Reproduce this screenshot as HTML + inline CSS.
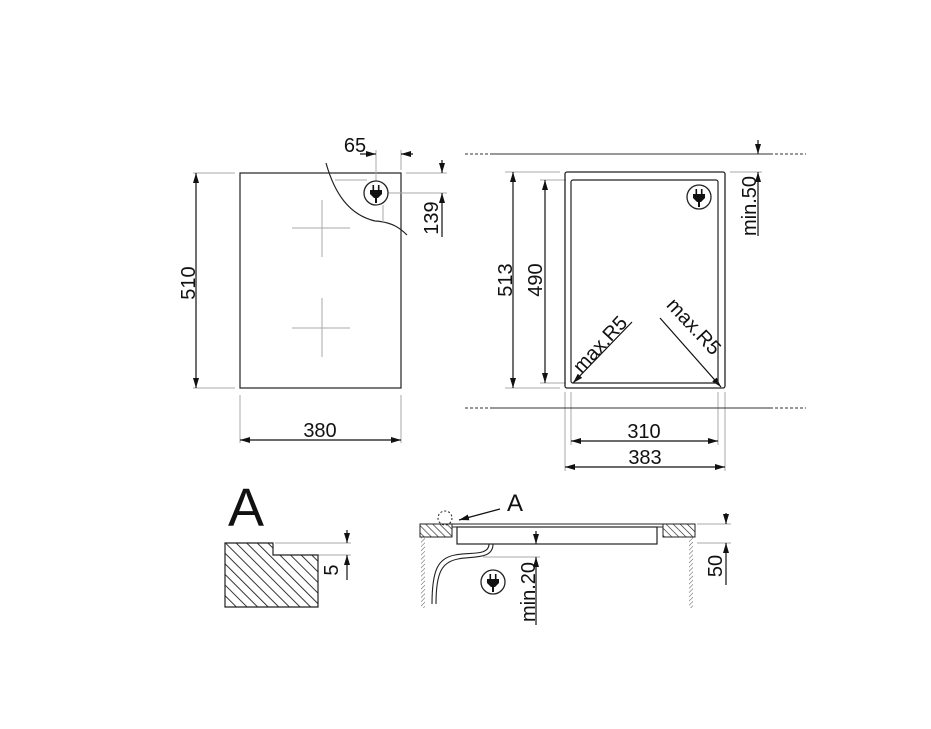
<!DOCTYPE html>
<html><head><meta charset="utf-8"><style>html,body{margin:0;padding:0;background:#fff}svg{display:block}text{font-family:"Liberation Sans",sans-serif;fill:#111}</style></head>
<body>
<svg width="931" height="729" viewBox="0 0 931 729" xmlns="http://www.w3.org/2000/svg">
<defs>
<marker id="a" viewBox="0 0 10 6" refX="10" refY="3" markerWidth="10" markerHeight="6" markerUnits="userSpaceOnUse" orient="auto"><path d="M0,0L10,3L0,6z" fill="#111"/></marker>
<pattern id="h" width="7.5" height="7.5" patternUnits="userSpaceOnUse" patternTransform="rotate(-45)"><line x1="0" y1="0" x2="0" y2="7.5" stroke="#111" stroke-width="1.7"/></pattern>
<pattern id="h2" width="5" height="5" patternUnits="userSpaceOnUse" patternTransform="rotate(-45)"><line x1="0" y1="0" x2="0" y2="5" stroke="#222" stroke-width="1.3"/></pattern>
<pattern id="hw" width="3" height="3" patternUnits="userSpaceOnUse" patternTransform="rotate(45)"><line x1="0" y1="0" x2="0" y2="3" stroke="#555" stroke-width="1"/></pattern>
<g id="plug"><circle r="12" fill="#fff" stroke="#222" stroke-width="1.3"/><rect x="-3.5" y="-8" width="1.6" height="5" fill="#111"/><rect x="1.9" y="-8" width="1.6" height="5" fill="#111"/><path d="M-6,-3H6V1L2,5H-2L-6,1z" fill="#111"/><rect x="-1" y="4" width="2" height="6" fill="#111"/></g>
</defs>
<g fill="none" stroke="#222" stroke-width="1.2">
<rect x="240" y="173" width="161" height="215"/>
<path d="M326,163 C335,195 350,215 375,221 C392,222 400,228 407,235"/>
</g>
<g stroke="#aaa" stroke-width="1" fill="none">
<line x1="292" y1="228" x2="350" y2="228"/><line x1="322" y1="200" x2="322" y2="257"/>
<line x1="292" y1="328" x2="350" y2="328"/><line x1="322" y1="298" x2="322" y2="357"/>
<line x1="193" y1="173" x2="235" y2="173"/><line x1="193" y1="388" x2="235" y2="388"/>
<line x1="240" y1="395" x2="240" y2="443"/><line x1="401" y1="395" x2="401" y2="443"/>
<line x1="376" y1="150" x2="376" y2="181"/><line x1="401" y1="150" x2="401" y2="170"/>
<line x1="406" y1="173" x2="447" y2="173"/><line x1="388" y1="193" x2="447" y2="193"/>
<line x1="335" y1="180" x2="367" y2="180"/><line x1="383" y1="205" x2="383" y2="222"/>
<line x1="505" y1="172" x2="560" y2="172"/><line x1="505" y1="388" x2="560" y2="388"/>
<line x1="540" y1="180" x2="566" y2="180"/><line x1="540" y1="383" x2="566" y2="383"/>
<line x1="730" y1="172" x2="762" y2="172"/>
<line x1="565" y1="392" x2="565" y2="471"/><line x1="571" y1="392" x2="571" y2="445"/>
<line x1="718" y1="392" x2="718" y2="445"/><line x1="725" y1="392" x2="725" y2="471"/>
<line x1="275" y1="543" x2="351" y2="543"/><line x1="318" y1="555" x2="351" y2="555"/>
<line x1="483" y1="557" x2="540" y2="557"/>
<line x1="697" y1="524" x2="731" y2="524"/><line x1="697" y1="543" x2="731" y2="543"/>
</g>
<g stroke="#111" stroke-width="1.2" fill="none" marker-end="url(#a)">
<path d="M196,280V173" /><path d="M196,280V388"/>
<path d="M320,440H240"/><path d="M320,440H401"/>
<path d="M360,154H376"/><path d="M413,154H401"/>
<path d="M442,160V173"/><path d="M442,237V193"/>
<path d="M513,280V172"/><path d="M513,280V388"/>
<path d="M545,280V180"/><path d="M545,280V383"/>
<path d="M758,140V154"/><path d="M758,236V172"/>
<path d="M632,322L573,383"/><path d="M660,318L721,387"/>
<path d="M644,441H571"/><path d="M644,441H718"/>
<path d="M645,467H565"/><path d="M645,467H725"/>
<path d="M347,530V543"/><path d="M347,580V555"/>
<path d="M536,531V544"/><path d="M536,625V557"/>
<path d="M726,513V524"/><path d="M726,585V543"/>
<path d="M500,509L459,520"/>
</g>
<g stroke="#333" stroke-width="1.1">
<line x1="490" y1="154" x2="773" y2="154"/><line x1="490" y1="408" x2="773" y2="408"/>
<line x1="465" y1="154" x2="490" y2="154" stroke-dasharray="3,2"/><line x1="465" y1="408" x2="490" y2="408" stroke-dasharray="3,2"/>
<line x1="775" y1="154" x2="806" y2="154" stroke-dasharray="3,2"/><line x1="775" y1="408" x2="806" y2="408" stroke-dasharray="3,2"/>
</g>
<rect x="565" y="172" width="160" height="216" rx="2" fill="none" stroke="#222" stroke-width="1.3"/>
<rect x="571" y="180" width="147" height="203" rx="2" fill="none" stroke="#222" stroke-width="1.2"/>
<use href="#plug" x="376" y="193"/>
<use href="#plug" x="699" y="197"/>
<path d="M225,543H273V555H318V607H225z" fill="url(#h)" stroke="#222" stroke-width="1.2"/>
<rect x="420" y="524" width="32" height="13" fill="url(#h2)" stroke="#222" stroke-width="1"/>
<rect x="663" y="524" width="32" height="13" fill="url(#h2)" stroke="#222" stroke-width="1"/>
<rect x="421" y="537" width="4" height="71" fill="url(#hw)"/>
<rect x="689" y="537" width="4" height="71" fill="url(#hw)"/>
<line x1="452" y1="524" x2="663" y2="524" stroke="#222"/>
<line x1="452" y1="527" x2="663" y2="527" stroke="#222"/>
<rect x="457" y="527" width="200" height="17" fill="none" stroke="#222" stroke-width="1.2"/>
<circle cx="445" cy="518" r="7" fill="none" stroke="#222" stroke-dasharray="2,2"/>
<path d="M489,544 C489,556 470,552 455,555 C438,558 432,570 432,604" fill="none" stroke="#222" stroke-width="1.1"/>
<path d="M493,544 C493,560 472,556 458,559 C442,562 436,572 436,604" fill="none" stroke="#222" stroke-width="1.1"/>
<use href="#plug" x="493" y="582"/>
<g font-size="20">
<text x="320" y="437" text-anchor="middle">380</text>
<text x="355" y="152" text-anchor="middle">65</text>
<text transform="translate(195,283) rotate(-90)" text-anchor="middle">510</text>
<text transform="translate(438,218) rotate(-90)" text-anchor="middle">139</text>
<text transform="translate(512,280) rotate(-90)" text-anchor="middle">513</text>
<text transform="translate(542,280) rotate(-90)" text-anchor="middle">490</text>
<text transform="translate(756,206) rotate(-90)" text-anchor="middle">min.50</text>
<text transform="translate(605,349) rotate(-47)" text-anchor="middle">max.R5</text>
<text transform="translate(689,331) rotate(47)" text-anchor="middle">max.R5</text>
<text x="644" y="438" text-anchor="middle">310</text>
<text x="645" y="464" text-anchor="middle">383</text>
<text transform="translate(338,570) rotate(-90)" text-anchor="middle">5</text>
<text transform="translate(535,592) rotate(-90)" text-anchor="middle">min.20</text>
<text transform="translate(722,566) rotate(-90)" text-anchor="middle">50</text>
</g>
<text x="246" y="526" font-size="54" text-anchor="middle">A</text>
<text x="515" y="511" font-size="24" text-anchor="middle">A</text>
</svg>
</body></html>
